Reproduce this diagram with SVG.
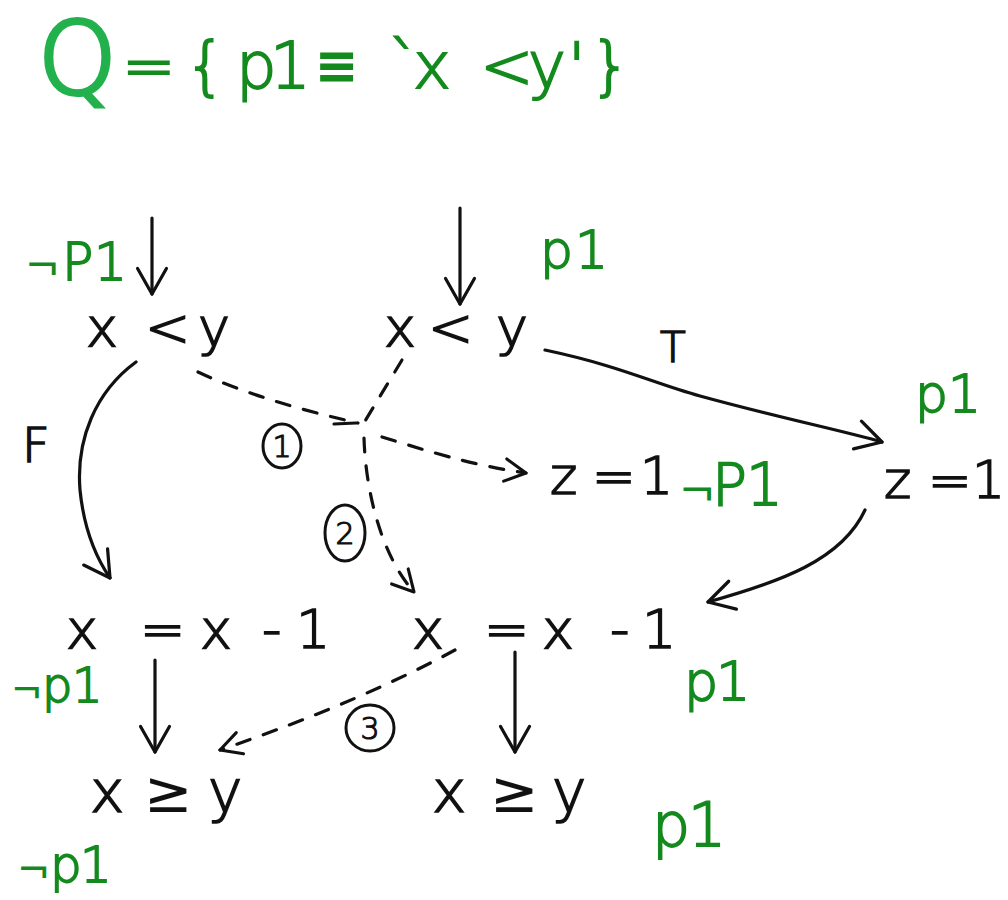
<svg xmlns="http://www.w3.org/2000/svg" width="1008" height="900" viewBox="0 0 1008 900">
<style>
.t{font-family:"DejaVu Sans","Liberation Sans",sans-serif;font-weight:300;fill:#111;stroke:#111;stroke-width:1.6}
.g{font-family:"DejaVu Sans","Liberation Sans",sans-serif;font-weight:300;fill:#148a1e;stroke:#148a1e;stroke-width:1.8}
.n{font-weight:400;stroke-width:0}
.e{fill:none;stroke:#111;stroke-width:3.2;stroke-linecap:round}
.d{fill:none;stroke:#111;stroke-width:3.2;stroke-linecap:round;stroke-dasharray:14 14}
.c{fill:none;stroke:#111;stroke-width:3}
</style>
<defs>
<marker id="ah" viewBox="0 0 20 20" refX="18" refY="10" markerWidth="34" markerHeight="34" markerUnits="userSpaceOnUse" orient="auto">
<path d="M3,1.5 L18,10 L3,18.5" fill="none" stroke="#111" stroke-width="1.9" stroke-linecap="round" stroke-linejoin="round"/>
</marker>
<marker id="ahs" viewBox="0 0 20 20" refX="18" refY="10" markerWidth="28" markerHeight="28" markerUnits="userSpaceOnUse" orient="auto">
<path d="M3,2 L18,10 L3,18" fill="none" stroke="#111" stroke-width="2.2" stroke-linecap="round" stroke-linejoin="round"/>
</marker>
</defs>
<rect width="1008" height="900" fill="#fff"/>

<g id="title">
<text class="g" font-size="100" x="38" y="94" style="fill:#22b14c;stroke:#22b14c;stroke-width:4">Q</text>
<text class="g" font-size="64" y="88" x="122 185 236 270 318 388 413 480 528 568 590">={p1≡`x&lt;y'}</text>
</g>

<g id="connectors">
<path class="e" d="M152,218 L152,294" marker-end="url(#ah)"/>
<path class="e" d="M460,208 L460,304" marker-end="url(#ah)"/>
<path class="e" d="M136,362 C95,392 76,440 80,490 C84,530 95,556 110,578" marker-end="url(#ah)"/>
<path class="e" d="M545,350 C620,366 650,382 700,396 C780,418 840,430 882,442" marker-end="url(#ah)"/>
<path class="e" d="M865,510 C842,560 780,582 708,602" marker-end="url(#ah)"/>
<path class="e" d="M155,660 L155,752" marker-end="url(#ah)"/>
<path class="e" d="M515,652 L515,752" marker-end="url(#ah)"/>
<path class="d" d="M198,372 C240,392 300,410 358,423"/>
<path class="d" d="M402,360 L362,426"/>
<path class="e" d="M334,424 L356,423"/>
<path class="d" d="M382,437 C425,450 470,465 526,473" marker-end="url(#ahs)"/>
<path class="d" d="M364,438 C366,500 385,560 414,592" marker-end="url(#ahs)"/>
<path class="d" d="M455,650 C400,680 320,716 220,750" marker-end="url(#ahs)"/>
</g>

<g id="n1"><text class="t" font-size="54" y="346" x="86 145 198">x&lt;y</text></g>
<g id="n1lbl"><text class="g" font-size="52" y="280"><tspan x="26" font-size="40">¬</tspan><tspan x="62">P</tspan><tspan x="94">1</tspan></text></g>
<g id="n2"><text class="t" font-size="54" y="346" x="384 428 496">x&lt;y</text></g>
<g id="n2lbl"><text class="g" font-size="52" y="268" x="540 575">p1</text></g>
<g id="lblT"><text class="t" font-size="42" x="660" y="362">T</text></g>
<g id="lblF"><text class="t" font-size="48" x="22" y="462">F</text></g>
<g id="z1"><text class="t" font-size="52" y="494" x="550 592 640">z=1</text>
<text class="g" font-size="58" y="505"><tspan x="680" font-size="42">¬</tspan><tspan x="712">P</tspan><tspan x="746">1</tspan></text></g>
<g id="z2"><text class="t" font-size="52" y="498" x="884 928 972">z=1</text>
<text class="g" font-size="52" y="412" x="915 948">p1</text></g>
<g id="c1"><ellipse class="c" cx="282" cy="446" rx="19" ry="22"/><text class="t" font-size="30" x="282" y="457" text-anchor="middle" style="stroke-width:1.2">1</text></g>
<g id="c2"><ellipse class="c" cx="345" cy="533" rx="20" ry="28"/><text class="t" font-size="30" x="345" y="544" text-anchor="middle" style="stroke-width:1.2">2</text></g>
<g id="c3"><ellipse class="c" cx="370" cy="728" rx="24" ry="23"/><text class="t" font-size="30" x="370" y="739" text-anchor="middle" style="stroke-width:1.2">3</text></g>
<g id="a1"><text class="t" font-size="54" y="648" x="66 140 200 262 296">x=x-1</text>
<text class="g" font-size="48" y="702"><tspan x="12" font-size="36">¬</tspan><tspan x="42">p</tspan><tspan x="72">1</tspan></text></g>
<g id="a2"><text class="t" font-size="54" y="648" x="412 484 542 610 642">x=x-1</text>
<text class="g" font-size="54" y="700" x="684 716">p1</text></g>
<g id="b1"><text class="t" font-size="58" y="812"><tspan x="90">x</tspan><tspan x="144" class="n">≥</tspan><tspan x="208">y</tspan></text>
<text class="g" font-size="50" y="882"><tspan x="18" font-size="38">¬</tspan><tspan x="50">p</tspan><tspan x="80">1</tspan></text></g>
<g id="b2"><text class="t" font-size="58" y="812"><tspan x="432">x</tspan><tspan x="490" class="n">≥</tspan><tspan x="552">y</tspan></text>
<text class="g" font-size="60" y="846" x="652 688">p1</text></g>
</svg>
